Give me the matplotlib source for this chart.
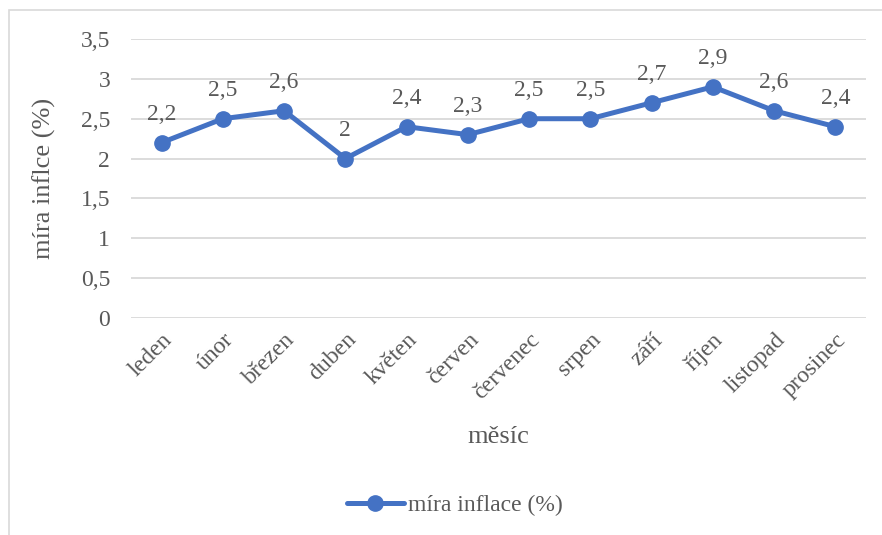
import matplotlib.pyplot as plt
from matplotlib.patches import Rectangle

mesice = ['leden', 'únor', 'březen', 'duben', 'květen', 'červen',
          'červenec', 'srpen', 'září', 'říjen', 'listopad', 'prosinec']
inflace = [2.2, 2.5, 2.6, 2.0, 2.4, 2.3, 2.5, 2.5, 2.7, 2.9, 2.6, 2.4]
y_ticks = [0, 0.5, 1, 1.5, 2, 2.5, 3, 3.5]

plt.rcParams['font.family'] = ['Liberation Serif', 'DejaVu Serif']
text_col = '#595959'
blue = '#4472C4'

fig = plt.figure(figsize=(8.82, 5.35), dpi=100)
# outer chart frame (only top/left visible in the reference)
fig.patches.append(Rectangle((9 / 882, -0.1), 2.0, 1.1 - 10 / 535, transform=fig.transFigure,
                             fill=False, edgecolor='#D9D9D9', linewidth=1.2))

ax = fig.add_axes([131 / 882, 1 - 318 / 535, 735 / 882, 279 / 535])
x = list(range(len(mesice)))
ax.plot(x, inflace, color=blue, linewidth=3.6, marker='o', markersize=11,
        label='míra inflace (%)', zorder=3, solid_capstyle='round')

for xi, v in zip(x, inflace):
    lab = ('%g' % v).replace('.', ',')
    ax.annotate(lab, (xi, v), xytext=(0, 13), textcoords='offset points',
                ha='center', va='bottom', fontsize=17, color=text_col)

ax.set_xlim(-0.5, len(mesice) - 0.5)
ax.set_ylim(0, 3.5)
ax.set_yticks(y_ticks)
ax.set_yticklabels([('%g' % t).replace('.', ',') for t in y_ticks])
ax.set_xticks(x)
ax.set_xticklabels(mesice, rotation=45, ha='right', rotation_mode='anchor')
ax.tick_params(axis='both', length=0, labelsize=17, labelcolor=text_col)
ax.tick_params(axis='y', pad=15)
ax.tick_params(axis='x', pad=8)
ax.grid(axis='y', color='#D9D9D9', linewidth=1.3)
ax.set_axisbelow(True)
for s in ax.spines.values():
    s.set_visible(False)

ax.set_ylabel('míra inflce (%)', fontsize=19, color=text_col, labelpad=18)
fig.text(498 / 882, 1 - 437 / 535, 'měsíc', fontsize=19, color=text_col,
         ha='center', va='center')

fig.legend(loc='center', bbox_to_anchor=(455 / 882, 1 - 505 / 535), frameon=False,
           fontsize=17, labelcolor=text_col, handlelength=2.4, handletextpad=0.2)

fig.savefig('out.png', dpi=100)
